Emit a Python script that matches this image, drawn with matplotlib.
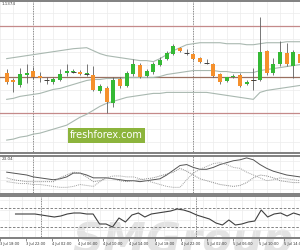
import numpy as np
import matplotlib.pyplot as plt

opens = [72, 80, 85, 74, 70, 75, 79.5, 82, 80, 72, 71, 71, 73, 74, 91, 88, 103, 79, 86, 73, 64, 75, 71,
         64, 58, 53, 47, 52, 53, 57, 62, 63, 73, 81, 77, 74, 84, 80, 80, 50, 72, 63, 52, 65, 53]
closes = [82, 82, 73, 72, 77, 78, 80.5, 79, 73, 70, 70, 73, 72, 90, 86, 102, 80, 86, 72, 63, 77, 70, 63,
          59, 52, 45, 50, 52.5, 58, 61, 62.5, 75, 82, 77, 75, 86, 82, 80.5, 51, 72, 63, 51, 63, 51, 62]
highs = [68, 78, 67, 63, 66, 71, 76, 77, 68, 63, 68, 69, 63, 65, 84, 86, 77, 77, 70, 58, 62, 68, 61,
         56, 50, 43, 46, 48, 52, 56, 58, 62, 72, 76, 73, 72, 80, 67, 16, 49, 57, 40, 42, 49, 50]
lows = [84, 92, 87, 83, 79, 82, 84, 84, 81, 75, 72, 74, 75, 91, 93, 113, 107, 88, 87, 75, 78, 77, 73,
        65, 59, 54, 51, 54, 59, 62, 63, 76, 84, 82, 78, 87, 85, 90, 81, 74, 74, 65, 65, 78, 64]

bb_upper = [58, 57, 56, 55, 54, 53, 52, 51, 50, 49, 48, 47.5, 47, 50, 53, 55, 56, 57, 58, 59, 60, 60, 61,
            58, 54, 50, 47, 44, 43, 42, 42, 42, 42, 43, 43, 43, 44, 44, 43, 42, 42, 42, 41, 41, 41]
bb_mid = [99, 98, 96, 95, 94, 93, 91, 89, 88, 86, 84, 82, 80, 79, 79, 78, 78, 78, 77, 77, 77, 77, 77,
          76, 74, 73, 72, 71, 70, 70, 70, 70, 71, 71, 72, 72, 72, 72, 70, 69, 68, 67, 66, 65, 64]
bb_lower = [140, 139, 137, 136, 134, 133, 131, 129, 127, 125, 121, 117, 114, 110, 106, 103, 101, 99, 97,
            96, 95, 94, 93, 93, 92, 92, 92, 92, 92, 92, 92, 93, 94, 95, 96, 97, 98, 99, 92, 90, 89, 88,
            87, 86, 85]
levels = [25, 77, 113]
level_colors = ['#c48a8a', '#9a7060', '#c48a8a']

adx_main = [172, 173, 174, 175, 177, 178, 179, 180, 179, 177, 173, 173, 175, 178, 178, 178, 179, 180,
            181, 181, 182, 181, 180, 179, 175, 170, 165, 164, 167, 169, 169, 167, 164, 162, 160, 159,
            157, 159, 164, 168, 171, 173, 175, 176, 177]
adx_plus = [178, 180, 181, 182, 182, 182, 182, 182, 178, 175, 172, 173, 177, 182, 181, 178, 179, 181,
            182, 181, 180, 179, 178, 176, 174, 172, 168, 171, 175, 179, 181, 183, 185, 186, 187, 186,
            183, 178, 175, 176, 178, 181, 182, 183, 183]
adx_minus = [182, 183, 184, 184, 185, 185, 186, 187, 188, 188, 187, 185, 186, 187, 182, 178, 176, 176,
             177, 177, 179, 181, 183, 185, 187, 188, 188, 180, 173, 169, 166, 163, 162, 164, 167, 168,
             172, 175, 178, 181, 180, 178, 179, 180, 181]

osc = [214, 214, 214, 214, 215, 216, 217, 216, 214, 213, 213, 214, 214, 224, 224, 227, 218, 222, 215,
       213, 217, 214, 213, 212, 211, 209, 210, 212, 215, 217, 219, 223, 225, 220, 225, 224, 222, 221,
       210, 217, 214, 213, 216, 213, 215]
osc_levels = [208, 227]

time_labels = ['3 Jul 18:00', '3 Jul 22:00', '4 Jul 02:00', '4 Jul 06:00', '4 Jul 10:00', '4 Jul 14:00',
               '4 Jul 18:00', '4 Jul 22:00', '5 Jul 02:00', '5 Jul 06:00', '5 Jul 10:00', '5 Jul 14:00']
label_bars = [-2, 2, 6, 10, 14, 18, 22, 26, 30, 34, 38, 42]
day_breaks = [4, 28]

small_font = ['Liberation Sans Narrow', 'DejaVu Sans']

x = np.arange(len(opens))
opens = np.array(opens)
closes = np.array(closes)
up = closes <= opens

fig = plt.figure(figsize=(3, 2.5), dpi=100)
ax1 = fig.add_axes([0, 0.388, 1, 0.608])
ax2 = fig.add_axes([0, 0.224, 1, 0.152])
ax3 = fig.add_axes([0, 0.048, 1, 0.168])

for ax in (ax1, ax2, ax3):
    ax.set_xlim(-0.15, 44.0)
    ax.set_xticks(np.arange(-1, 45, 2), minor=True)
    ax.grid(True, which='minor', axis='x', color='#ececec', lw=0.5)
    ax.grid(True, which='major', axis='y', color='#ececec', lw=0.5)
    ax.tick_params(left=False, labelleft=False, bottom=False, labelbottom=False, which='both')
    for s in ('left', 'right'):
        ax.spines[s].set_visible(False)
    for s in ('top', 'bottom'):
        ax.spines[s].set_color('#808080')
        ax.spines[s].set_linewidth(1.4)
    for d in day_breaks:
        ax.axvline(d - 0.05, color='#606060', lw=0.6, ls=(0, (1, 1)))

# main chart
ax1.set_ylim(153, 0)
ax1.set_yticks(np.arange(12, 153, 13))
for lv, c in zip(levels, level_colors):
    ax1.axhline(lv, color=c, lw=0.9)
band_col = '#a9b8b0'
ax1.plot(x, bb_upper, color=band_col, lw=0.8)
ax1.plot(x, bb_mid, color=band_col, lw=0.8)
ax1.plot(x, bb_lower, color=band_col, lw=0.8)
ax1.vlines(x, highs, lows, color='#606060', lw=0.6, zorder=3)
colors = np.where(up, '#35b935', '#f5902c')
body = np.abs(closes - opens)
bottoms = np.minimum(opens, closes)
ax1.bar(x, np.maximum(body, 0.8), bottom=bottoms, width=0.62, color=colors, zorder=4)
doji = body < 1.2
ax1.hlines(opens[doji], x[doji] - 0.35, x[doji] + 0.35, color='#404040', lw=0.7, zorder=5)
ax1.text(0.005, 0.995, '1.1374', transform=ax1.transAxes, fontsize=3, color='#404040',
         va='top', ha='left', family=small_font)

# middle indicator
ax2.set_ylim(195, 155)
ax2.set_yticks(np.arange(160, 195, 10))
ax2.plot(x, adx_main, color='#555555', lw=0.7)
ax2.plot(x, adx_plus, color='#8a8a8a', lw=0.7, ls=(0, (1, 1)))
ax2.plot(x, adx_minus, color='#a0a0a0', lw=0.7, ls=(0, (1, 1)))
ax2.text(0.005, 0.97, '23.04', transform=ax2.transAxes, fontsize=3, color='#404040',
         va='top', ha='left', family=small_font)

# bottom oscillator
ax3.set_ylim(238, 196)
ax3.set_yticks(np.arange(200, 238, 10))
ax3.text(0.61, -0.01, 'SMGroup', transform=fig.transFigure, fontsize=31, fontweight='bold',
         style='italic', family=small_font, color='#dedede', alpha=0.85,
         ha='center', va='baseline', zorder=0, clip_on=False)
for lv in osc_levels:
    ax3.axhline(lv, color='#707070', lw=0.6, ls=(0, (3, 2)))
ax3.plot(x, osc, color='#404040', lw=0.8, zorder=3)
ax3.set_xticks(np.array(label_bars) - 0.4)
ax3.set_xticklabels(time_labels, family=small_font)
ax3.tick_params(bottom=True, labelbottom=True, length=2, width=0.5, color='#606060',
                labelsize=2.6, pad=1, labelcolor='#303030')
for lbl in ax3.get_xticklabels():
    lbl.set_ha('left')

# watermark badge
fig.text(0.355, 0.458, 'freshforex.com', fontsize=7, color='white', ha='center', va='center',
         bbox=dict(boxstyle='square,pad=0.25', fc='#8cb43c', ec='none'), zorder=10)

fig.savefig('out.png', dpi=100)
